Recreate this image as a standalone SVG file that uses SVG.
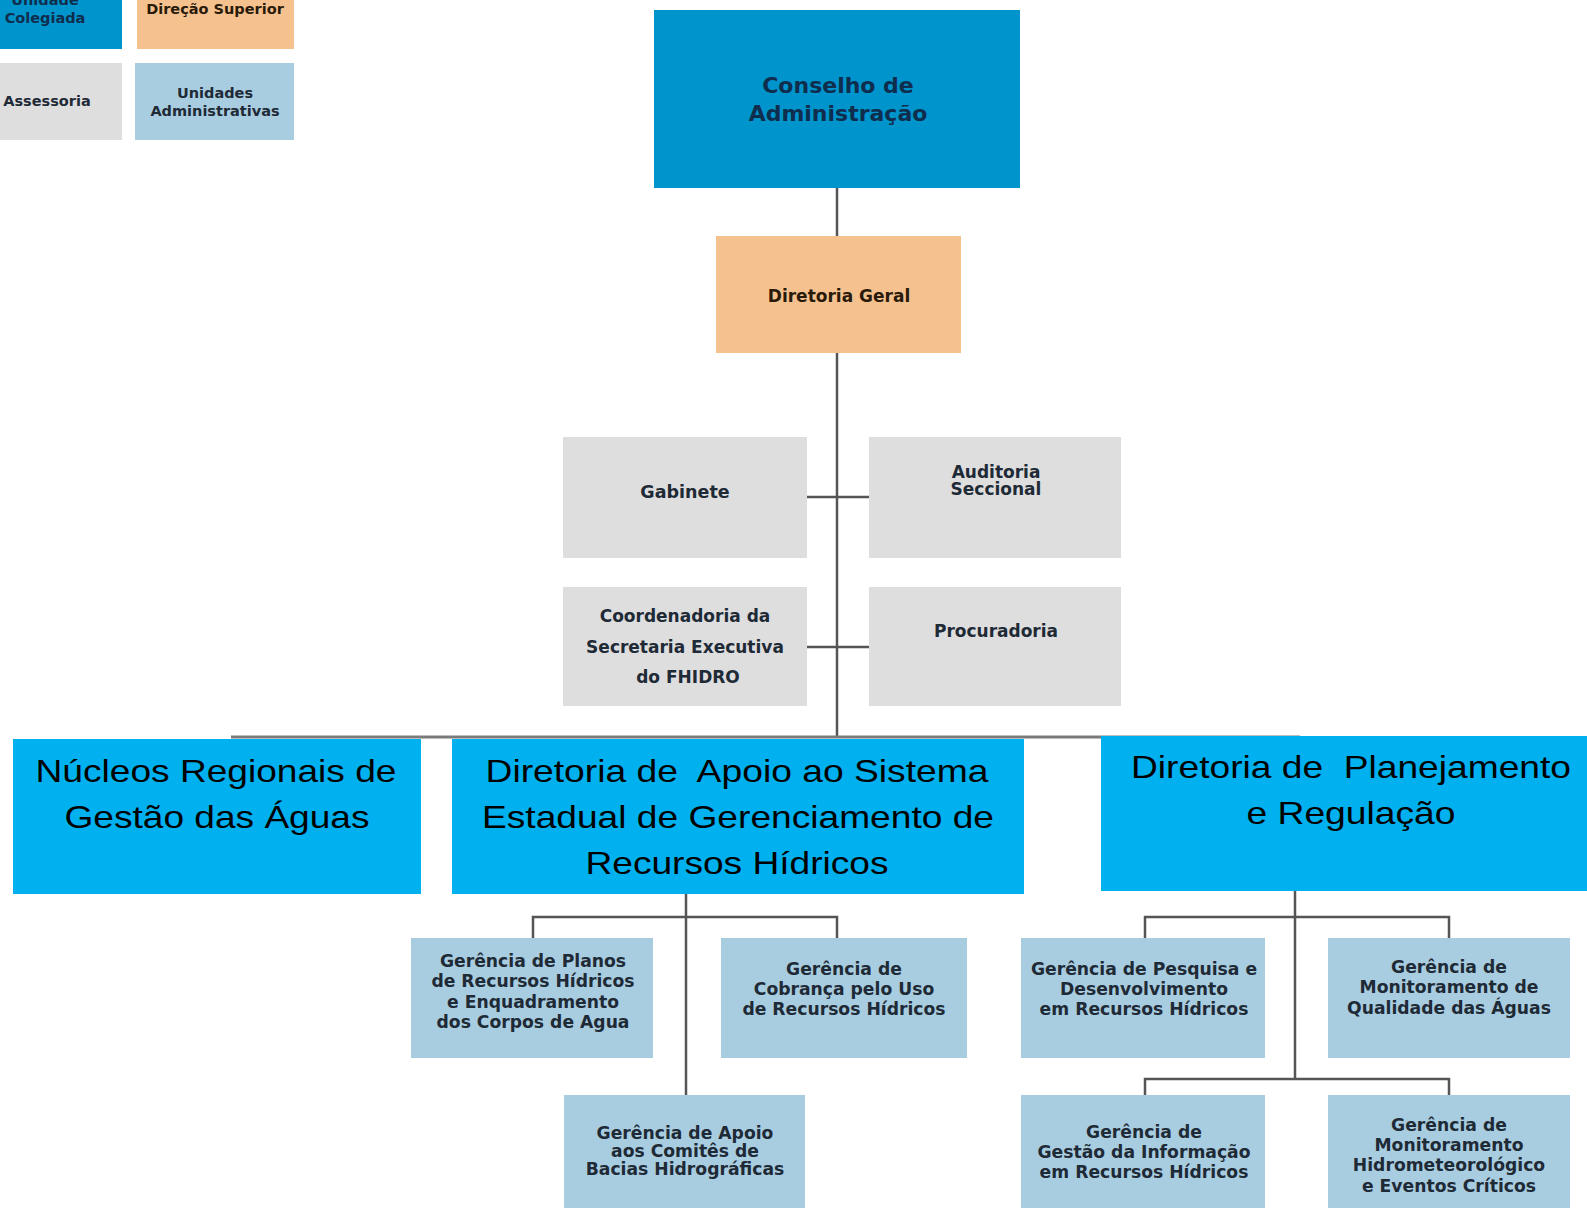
<svg xmlns="http://www.w3.org/2000/svg" width="1587" height="1208" viewBox="0 0 1587 1208">
<style>
.t{font-family:"DejaVu Sans","Liberation Sans",sans-serif;font-weight:bold;text-anchor:middle;fill:#1e2a36}
.g{font-size:17.2px}
.big{font-family:"Liberation Sans",Arial,sans-serif;font-size:32px;text-anchor:middle;fill:#000}
.colegiada{fill:#0094cc}
.superior{fill:#f5c28f}
.assess{fill:#dedede}
.admin{fill:#a9cde0}
.dir{fill:#00b0ef}
.ln{stroke:#555;stroke-width:2.5;fill:none}
</style>
<rect width="1587" height="1208" fill="#fff"/>
<g id="legend">
  <g id="leg-colegiada"><rect class="colegiada" x="0" y="0" width="122" height="49"/>
    <text class="t" x="45" y="5" font-size="14.5" style="fill:#0f2d4d">Unidade</text>
    <text class="t" x="45" y="23" font-size="14.5" style="fill:#0f2d4d">Colegiada</text></g>
  <g id="leg-superior"><rect class="superior" x="137" y="0" width="157" height="49"/>
    <text class="t" x="215" y="14" font-size="14.5" style="fill:#2a1a0a">Direção Superior</text></g>
  <g id="leg-assessoria"><rect class="assess" x="0" y="63" width="122" height="77"/>
    <text class="t" x="47" y="106" font-size="14.5">Assessoria</text></g>
  <g id="leg-admin"><rect class="admin" x="135" y="63" width="159" height="77"/>
    <text class="t" x="215" y="98" font-size="14.5">Unidades</text>
    <text class="t" x="215" y="116" font-size="14.5">Administrativas</text></g>
</g>
<g id="connectors">
  <line class="ln" x1="837" y1="188" x2="837" y2="737"/>
  <line class="ln" x1="807" y1="497" x2="869" y2="497"/>
  <line class="ln" x1="807" y1="647" x2="869" y2="647"/>
  <line x1="231" y1="737" x2="1300" y2="737" stroke="#7a7a7a" stroke-width="3"/>
  <line class="ln" x1="686" y1="894" x2="686" y2="1095"/>
  <polyline class="ln" points="533,939 533,917 837,917 837,939"/>
  <line class="ln" x1="1295" y1="891" x2="1295" y2="1079"/>
  <polyline class="ln" points="1145,939 1145,917 1449,917 1449,939"/>
  <polyline class="ln" points="1145,1095 1145,1079 1449,1079 1449,1095"/>
</g>
<g id="conselho"><rect class="colegiada" x="654" y="10" width="366" height="178"/>
  <text class="t" x="838" y="93" font-size="22" style="fill:#0f2d4d">Conselho de</text>
  <text class="t" x="838" y="121" font-size="22" style="fill:#0f2d4d">Administração</text></g>
<g id="diretoria-geral"><rect class="superior" x="716" y="236" width="245" height="117"/>
  <text class="t" x="839" y="302" font-size="17" style="fill:#2a1a0a">Diretoria Geral</text></g>
<g id="gabinete"><rect class="assess" x="563" y="437" width="244" height="121"/>
  <text class="t" x="685" y="498" font-size="17.5">Gabinete</text></g>
<g id="auditoria"><rect class="assess" x="869" y="437" width="252" height="121"/>
  <text class="t" x="996" y="478" font-size="17">Auditoria</text>
  <text class="t" x="996" y="495" font-size="17">Seccional</text></g>
<g id="coordenadoria"><rect class="assess" x="563" y="587" width="244" height="119"/>
  <text class="t" x="685" y="622" font-size="17">Coordenadoria da</text>
  <text class="t" x="685" y="653" font-size="17">Secretaria Executiva</text>
  <text class="t" x="688" y="683" font-size="17">do FHIDRO</text></g>
<g id="procuradoria"><rect class="assess" x="869" y="587" width="252" height="119"/>
  <text class="t" x="996" y="637" font-size="17">Procuradoria</text></g>
<g id="nucleos"><rect class="dir" x="13" y="739" width="408" height="155"/>
  <text class="big" x="216" y="782" textLength="361" lengthAdjust="spacingAndGlyphs">Núcleos Regionais de</text>
  <text class="big" x="217" y="828" textLength="305" lengthAdjust="spacingAndGlyphs">Gestão das Águas</text></g>
<g id="dir-apoio"><rect class="dir" x="452" y="739" width="572" height="155"/>
  <text class="big" x="737" y="782" textLength="503" lengthAdjust="spacingAndGlyphs" xml:space="preserve">Diretoria de  Apoio ao Sistema</text>
  <text class="big" x="738" y="828" textLength="512" lengthAdjust="spacingAndGlyphs">Estadual de Gerenciamento de</text>
  <text class="big" x="737" y="874" textLength="303" lengthAdjust="spacingAndGlyphs">Recursos Hídricos</text></g>
<g id="dir-planejamento"><rect class="dir" x="1101" y="736" width="486" height="155"/>
  <text class="big" x="1351" y="778" textLength="440" lengthAdjust="spacingAndGlyphs" xml:space="preserve">Diretoria de  Planejamento</text>
  <text class="big" x="1351" y="824" textLength="209" lengthAdjust="spacingAndGlyphs">e Regulação</text></g>
<g id="ger-planos"><rect class="admin" x="411" y="938" width="242" height="120"/>
  <text class="t g" x="533" y="967">Gerência de Planos</text>
  <text class="t g" x="533" y="987">de Recursos Hídricos</text>
  <text class="t g" x="533" y="1008">e Enquadramento</text>
  <text class="t g" x="533" y="1028">dos Corpos de Agua</text></g>
<g id="ger-cobranca"><rect class="admin" x="721" y="938" width="246" height="120"/>
  <text class="t g" x="844" y="975">Gerência de</text>
  <text class="t g" x="844" y="995">Cobrança pelo Uso</text>
  <text class="t g" x="844" y="1015">de Recursos Hídricos</text></g>
<g id="ger-apoio"><rect class="admin" x="564" y="1095" width="241" height="113"/>
  <text class="t g" x="685" y="1139">Gerência de Apoio</text>
  <text class="t g" x="685" y="1157">aos Comitês de</text>
  <text class="t g" x="685" y="1175">Bacias Hidrográficas</text></g>
<g id="ger-pesquisa"><rect class="admin" x="1021" y="938" width="244" height="120"/>
  <text class="t g" x="1144" y="975">Gerência de Pesquisa e</text>
  <text class="t g" x="1144" y="995">Desenvolvimento</text>
  <text class="t g" x="1144" y="1015">em Recursos Hídricos</text></g>
<g id="ger-qualidade"><rect class="admin" x="1328" y="938" width="242" height="120"/>
  <text class="t g" x="1449" y="973">Gerência de</text>
  <text class="t g" x="1449" y="993">Monitoramento de</text>
  <text class="t g" x="1449" y="1014">Qualidade das Águas</text></g>
<g id="ger-informacao"><rect class="admin" x="1021" y="1095" width="244" height="113"/>
  <text class="t g" x="1144" y="1138">Gerência de</text>
  <text class="t g" x="1144" y="1158">Gestão da Informação</text>
  <text class="t g" x="1144" y="1178">em Recursos Hídricos</text></g>
<g id="ger-hidro"><rect class="admin" x="1328" y="1095" width="242" height="113"/>
  <text class="t g" x="1449" y="1131">Gerência de</text>
  <text class="t g" x="1449" y="1151">Monitoramento</text>
  <text class="t g" x="1449" y="1171">Hidrometeorológico</text>
  <text class="t g" x="1449" y="1192">e Eventos Críticos</text></g>
</svg>
